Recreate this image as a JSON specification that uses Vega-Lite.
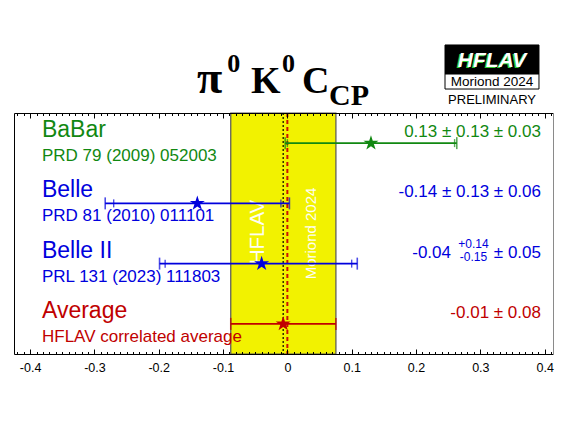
{
  "$schema": "https://vega.github.io/schema/vega-lite/v6.json",
  "autosize": "none",
  "width": 539,
  "height": 241,
  "padding": {"left": 14, "top": 113, "right": 14, "bottom": 71},
  "background": "white",
  "config": {"view": {"stroke": null}, "axis": {"grid": false}},
  "datasets": {
    "rows": [
      {"name": "BaBar", "ref": "PRD 79 (2009) 052003", "val": 0.13, "statLo": 0.0, "statHi": 0.26, "totLo": -0.0034, "totHi": 0.2634, "row": 3.5, "label": "0.13 ± 0.13 ± 0.03"},
      {"name": "Belle", "ref": "PRD 81 (2010) 011101", "val": -0.14, "statLo": -0.27, "statHi": -0.01, "totLo": -0.2832, "totHi": 0.0032, "row": 2.5, "label": "-0.14 ± 0.13 ± 0.06"},
      {"name": "Belle II", "ref": "PRL 131 (2023) 111803", "val": -0.04, "statLo": -0.19, "statHi": 0.10, "totLo": -0.1987, "totHi": 0.1087, "row": 1.5, "label": "± 0.05", "cen": "-0.04", "up": "+0.14", "dn": "-0.15"},
      {"name": "Average", "ref": "HFLAV correlated average", "val": -0.0065, "statLo": -0.088, "statHi": 0.0755, "totLo": -0.088, "totHi": 0.0755, "row": 0.5, "label": "-0.01 ± 0.08"}
    ]
  },
  "data": {"name": "rows"},
  "resolve": {"axis": {"x": "independent", "y": "independent"}},
  "layer": [
    {
      "data": {"values": [{}]},
      "mark": {"type": "rect", "fill": "#f2f200", "stroke": "#555555", "strokeWidth": 1.2},
      "encoding": {
        "x": {"datum": -0.088, "type": "quantitative", "scale": {"domain": [-0.425, 0.413], "nice": false, "zero": false},
          "axis": {"orient": "bottom", "values": [-0.4, -0.3, -0.2, -0.1, 0, 0.1, 0.2, 0.3, 0.4], "labelExpr": "'' + datum.value", "ticks": false, "domain": false, "grid": false, "title": null, "labelFont": "Liberation Sans", "labelFontSize": 12.5, "labelColor": "black", "labelPadding": 7, "labelFlush": false, "labelOverlap": false}},
        "x2": {"datum": 0.0755},
        "y": {"datum": 0, "type": "quantitative", "scale": {"domain": [0, 4], "nice": false, "zero": false},
          "axis": {"orient": "left", "domain": true, "domainColor": "black", "domainWidth": 1, "ticks": false, "labels": false, "grid": false, "title": null, "zindex": 1}},
        "y2": {"datum": 4}
      }
    },
    {
      "data": {"values": [{}]},
      "mark": {"type": "rule", "color": "black", "strokeWidth": 1.2, "strokeDash": [2, 2]},
      "encoding": {
        "x": {"datum": -0.0065, "type": "quantitative", "scale": {"domain": [-0.425, 0.413], "nice": false, "zero": false},
          "axis": {"orient": "bottom", "values": [-0.4, -0.3, -0.2, -0.1, 0, 0.1, 0.2, 0.3, 0.4], "labels": false, "ticks": true, "tickSize": -5, "tickColor": "black", "tickWidth": 1, "domain": true, "domainColor": "black", "domainWidth": 1, "grid": false, "title": null, "zindex": 1}}
      }
    },
    {
      "data": {"values": [{}]},
      "mark": {"type": "rule", "color": "#cc1100", "strokeWidth": 2, "strokeDash": [4, 3]},
      "encoding": {
        "x": {"datum": 0, "type": "quantitative", "scale": {"domain": [-0.425, 0.413], "nice": false, "zero": false},
          "axis": {"orient": "top", "values": [-0.4, -0.3, -0.2, -0.1, 0, 0.1, 0.2, 0.3, 0.4], "labels": false, "ticks": true, "tickSize": -5, "tickColor": "black", "tickWidth": 1, "domain": true, "domainColor": "black", "domainWidth": 1, "grid": false, "title": null, "zindex": 1}}
      }
    },
    {
      "data": {"values": [{}]},
      "mark": {"type": "text", "text": "HFLAV", "angle": 270, "align": "center", "baseline": "middle", "font": "Liberation Sans", "fontSize": 20.5, "color": "white", "opacity": 0.95},
      "encoding": {
        "x": {"datum": -0.0452, "type": "quantitative", "scale": {"domain": [-0.425, 0.413], "nice": false, "zero": false}, "axis": null},
        "y": {"datum": 2.025, "type": "quantitative", "scale": {"domain": [0, 4], "nice": false, "zero": false}, "axis": null}
      }
    },
    {
      "data": {"values": [{}]},
      "mark": {"type": "text", "text": "Moriond 2024", "angle": 270, "align": "center", "baseline": "middle", "font": "Liberation Sans", "fontSize": 15, "color": "white", "opacity": 0.95},
      "encoding": {
        "x": {"datum": 0.0372, "type": "quantitative", "scale": {"domain": [-0.425, 0.413], "nice": false, "zero": false}, "axis": null},
        "y": {"datum": 2.0, "type": "quantitative", "scale": {"domain": [0, 4], "nice": false, "zero": false}, "axis": null}
      }
    },
    {
      "mark": {"type": "rule", "strokeWidth": 1.8},
      "encoding": {
        "x": {"field": "totLo", "type": "quantitative", "scale": {"domain": [-0.425, 0.413], "nice": false, "zero": false},
          "axis": {"orient": "bottom", "tickCount": 84, "labels": false, "ticks": true, "tickSize": -2.5, "tickColor": "black", "tickWidth": 1, "domain": false, "grid": false, "title": null, "zindex": 1}},
        "x2": {"field": "totHi"},
        "y": {"field": "row", "type": "quantitative", "scale": {"domain": [0, 4], "nice": false, "zero": false},
          "axis": {"orient": "right", "domain": true, "domainColor": "#8a8a8a", "domainWidth": 1, "ticks": false, "labels": false, "grid": false, "title": null, "zindex": 1}},
        "color": {"field": "name", "type": "nominal", "scale": {"domain": ["BaBar", "Belle", "Belle II", "Average"], "range": ["#118811", "#0000dd", "#0000dd", "#c00000"]}, "legend": null}
      }
    },
    {
      "transform": [{"fold": ["totLo", "totHi"], "as": ["end", "pos"]}],
      "mark": {"type": "tick", "orient": "vertical", "size": 12, "thickness": 1.6},
      "encoding": {
        "x": {"field": "pos", "type": "quantitative", "scale": {"domain": [-0.425, 0.413], "nice": false, "zero": false}, "axis": null},
        "y": {"field": "row", "type": "quantitative", "scale": {"domain": [0, 4], "nice": false, "zero": false}, "axis": null},
        "color": {"field": "name", "type": "nominal", "scale": {"domain": ["BaBar", "Belle", "Belle II", "Average"], "range": ["#118811", "#0000dd", "#0000dd", "#c00000"]}, "legend": null}
      }
    },
    {
      "transform": [{"filter": "datum.name != 'Average'"}, {"fold": ["statLo", "statHi"], "as": ["end", "pos"]}],
      "mark": {"type": "tick", "orient": "vertical", "size": 8, "thickness": 1.4},
      "encoding": {
        "x": {"field": "pos", "type": "quantitative", "scale": {"domain": [-0.425, 0.413], "nice": false, "zero": false}, "axis": null},
        "y": {"field": "row", "type": "quantitative", "scale": {"domain": [0, 4], "nice": false, "zero": false}, "axis": null},
        "color": {"field": "name", "type": "nominal", "scale": {"domain": ["BaBar", "Belle", "Belle II", "Average"], "range": ["#118811", "#0000dd", "#0000dd", "#c00000"]}, "legend": null}
      }
    },
    {
      "mark": {"type": "point", "filled": true, "opacity": 1, "size": 250, "strokeWidth": 0, "shape": "M0,-1L0.2245,-0.309L0.951,-0.309L0.363,0.118L0.588,0.809L0,0.382L-0.588,0.809L-0.363,0.118L-0.951,-0.309L-0.2245,-0.309Z"},
      "encoding": {
        "x": {"field": "val", "type": "quantitative", "scale": {"domain": [-0.425, 0.413], "nice": false, "zero": false},
          "axis": {"orient": "top", "tickCount": 84, "labels": false, "ticks": true, "tickSize": -2.5, "tickColor": "black", "tickWidth": 1, "domain": false, "grid": false, "title": null, "zindex": 1}},
        "y": {"field": "row", "type": "quantitative", "scale": {"domain": [0, 4], "nice": false, "zero": false}, "axis": null},
        "color": {"field": "name", "type": "nominal", "scale": {"domain": ["BaBar", "Belle", "Belle II", "Average"], "range": ["#118811", "#0000dd", "#0000dd", "#c00000"]}, "legend": null}
      }
    },
    {
      "mark": {"type": "text", "align": "left", "baseline": "alphabetic", "dy": -6, "font": "Liberation Sans", "fontSize": 23},
      "encoding": {
        "x": {"datum": -0.3815, "type": "quantitative", "scale": {"domain": [-0.425, 0.413], "nice": false, "zero": false}, "axis": null},
        "y": {"field": "row", "type": "quantitative", "scale": {"domain": [0, 4], "nice": false, "zero": false}, "axis": null},
        "text": {"field": "name"},
        "color": {"field": "name", "type": "nominal", "scale": {"domain": ["BaBar", "Belle", "Belle II", "Average"], "range": ["#118811", "#0000dd", "#0000dd", "#c00000"]}, "legend": null}
      }
    },
    {
      "mark": {"type": "text", "align": "left", "baseline": "alphabetic", "dy": 18, "font": "Liberation Sans", "fontSize": 17},
      "encoding": {
        "x": {"datum": -0.3815, "type": "quantitative", "scale": {"domain": [-0.425, 0.413], "nice": false, "zero": false}, "axis": null},
        "y": {"field": "row", "type": "quantitative", "scale": {"domain": [0, 4], "nice": false, "zero": false}, "axis": null},
        "text": {"field": "ref"},
        "color": {"field": "name", "type": "nominal", "scale": {"domain": ["BaBar", "Belle", "Belle II", "Average"], "range": ["#118811", "#0000dd", "#0000dd", "#c00000"]}, "legend": null}
      }
    },
    {
      "mark": {"type": "text", "align": "right", "baseline": "alphabetic", "dy": -6, "font": "Liberation Sans", "fontSize": 17},
      "encoding": {
        "x": {"datum": 0.3943, "type": "quantitative", "scale": {"domain": [-0.425, 0.413], "nice": false, "zero": false}, "axis": null},
        "y": {"field": "row", "type": "quantitative", "scale": {"domain": [0, 4], "nice": false, "zero": false}, "axis": null},
        "text": {"field": "label"},
        "color": {"field": "name", "type": "nominal", "scale": {"domain": ["BaBar", "Belle", "Belle II", "Average"], "range": ["#118811", "#0000dd", "#0000dd", "#c00000"]}, "legend": null}
      }
    },
    {
      "transform": [{"filter": "isValid(datum.cen)"}],
      "mark": {"type": "text", "align": "right", "baseline": "alphabetic", "dy": -6, "font": "Liberation Sans", "fontSize": 17, "color": "#0000dd"},
      "encoding": {
        "x": {"datum": 0.2544, "type": "quantitative", "scale": {"domain": [-0.425, 0.413], "nice": false, "zero": false}, "axis": null},
        "y": {"field": "row", "type": "quantitative", "scale": {"domain": [0, 4], "nice": false, "zero": false}, "axis": null},
        "text": {"field": "cen"}
      }
    },
    {
      "transform": [{"filter": "isValid(datum.up)"}],
      "mark": {"type": "text", "align": "center", "baseline": "alphabetic", "dy": -16, "font": "Liberation Sans", "fontSize": 12, "color": "#0000dd"},
      "encoding": {
        "x": {"datum": 0.2894, "type": "quantitative", "scale": {"domain": [-0.425, 0.413], "nice": false, "zero": false}, "axis": null},
        "y": {"field": "row", "type": "quantitative", "scale": {"domain": [0, 4], "nice": false, "zero": false}, "axis": null},
        "text": {"field": "up"}
      }
    },
    {
      "transform": [{"filter": "isValid(datum.dn)"}],
      "mark": {"type": "text", "align": "center", "baseline": "alphabetic", "dy": -3, "font": "Liberation Sans", "fontSize": 12, "color": "#0000dd"},
      "encoding": {
        "x": {"datum": 0.2894, "type": "quantitative", "scale": {"domain": [-0.425, 0.413], "nice": false, "zero": false}, "axis": null},
        "y": {"field": "row", "type": "quantitative", "scale": {"domain": [0, 4], "nice": false, "zero": false}, "axis": null},
        "text": {"field": "dn"}
      }
    },
    {
      "data": {"values": [{}]},
      "mark": {"type": "text", "text": "π", "align": "left", "baseline": "alphabetic", "font": "Liberation Serif", "fontWeight": "bold", "fontSize": 46, "color": "black"},
      "encoding": {
        "x": {"datum": -0.1405, "type": "quantitative", "scale": {"domain": [-0.425, 0.413], "nice": false, "zero": false}, "axis": null},
        "y": {"datum": 4.332, "type": "quantitative", "scale": {"domain": [0, 4], "nice": false, "zero": false}, "axis": null}
      }
    },
    {
      "data": {"values": [{}]},
      "mark": {"type": "text", "text": "0", "align": "left", "baseline": "alphabetic", "font": "Liberation Serif", "fontWeight": "bold", "fontSize": 26, "color": "black"},
      "encoding": {
        "x": {"datum": -0.0935, "type": "quantitative", "scale": {"domain": [-0.425, 0.413], "nice": false, "zero": false}, "axis": null},
        "y": {"datum": 4.68, "type": "quantitative", "scale": {"domain": [0, 4], "nice": false, "zero": false}, "axis": null}
      }
    },
    {
      "data": {"values": [{}]},
      "mark": {"type": "text", "text": "K", "align": "left", "baseline": "alphabetic", "font": "Liberation Serif", "fontWeight": "bold", "fontSize": 38, "color": "black"},
      "encoding": {
        "x": {"datum": -0.0565, "type": "quantitative", "scale": {"domain": [-0.425, 0.413], "nice": false, "zero": false}, "axis": null},
        "y": {"datum": 4.332, "type": "quantitative", "scale": {"domain": [0, 4], "nice": false, "zero": false}, "axis": null}
      }
    },
    {
      "data": {"values": [{}]},
      "mark": {"type": "text", "text": "0", "align": "left", "baseline": "alphabetic", "font": "Liberation Serif", "fontWeight": "bold", "fontSize": 26, "color": "black"},
      "encoding": {
        "x": {"datum": -0.0083, "type": "quantitative", "scale": {"domain": [-0.425, 0.413], "nice": false, "zero": false}, "axis": null},
        "y": {"datum": 4.68, "type": "quantitative", "scale": {"domain": [0, 4], "nice": false, "zero": false}, "axis": null}
      }
    },
    {
      "data": {"values": [{}]},
      "mark": {"type": "text", "text": "C", "align": "left", "baseline": "alphabetic", "font": "Liberation Serif", "fontWeight": "bold", "fontSize": 38, "color": "black"},
      "encoding": {
        "x": {"datum": 0.0228, "type": "quantitative", "scale": {"domain": [-0.425, 0.413], "nice": false, "zero": false}, "axis": null},
        "y": {"datum": 4.332, "type": "quantitative", "scale": {"domain": [0, 4], "nice": false, "zero": false}, "axis": null}
      }
    },
    {
      "data": {"values": [{}]},
      "mark": {"type": "text", "text": "CP", "align": "left", "baseline": "alphabetic", "font": "Liberation Serif", "fontWeight": "bold", "fontSize": 30, "color": "black"},
      "encoding": {
        "x": {"datum": 0.0647, "type": "quantitative", "scale": {"domain": [-0.425, 0.413], "nice": false, "zero": false}, "axis": null},
        "y": {"datum": 4.133, "type": "quantitative", "scale": {"domain": [0, 4], "nice": false, "zero": false}, "axis": null}
      }
    },
    {
      "data": {"values": [{}]},
      "mark": {"type": "rect", "fill": "black", "stroke": "black", "strokeWidth": 1},
      "encoding": {
        "x": {"datum": 0.2451, "type": "quantitative", "scale": {"domain": [-0.425, 0.413], "nice": false, "zero": false}, "axis": null},
        "x2": {"datum": 0.3912},
        "y": {"datum": 5.129, "type": "quantitative", "scale": {"domain": [0, 4], "nice": false, "zero": false}, "axis": null},
        "y2": {"datum": 4.647}
      }
    },
    {
      "data": {"values": [{}]},
      "mark": {"type": "rect", "fill": "white", "stroke": "black", "strokeWidth": 1},
      "encoding": {
        "x": {"datum": 0.2451, "type": "quantitative", "scale": {"domain": [-0.425, 0.413], "nice": false, "zero": false}, "axis": null},
        "x2": {"datum": 0.3912},
        "y": {"datum": 4.647, "type": "quantitative", "scale": {"domain": [0, 4], "nice": false, "zero": false}, "axis": null},
        "y2": {"datum": 4.398}
      }
    },
    {
      "data": {"values": [{}]},
      "mark": {"type": "text", "text": "HFLAV", "align": "center", "baseline": "alphabetic", "dx": -1.5, "dy": 1, "font": "Liberation Sans", "fontWeight": "bold", "fontStyle": "italic", "fontSize": 21, "color": "#33cc33"},
      "encoding": {
        "x": {"datum": 0.3182, "type": "quantitative", "scale": {"domain": [-0.425, 0.413], "nice": false, "zero": false}, "axis": null},
        "y": {"datum": 4.759, "type": "quantitative", "scale": {"domain": [0, 4], "nice": false, "zero": false}, "axis": null}
      }
    },
    {
      "data": {"values": [{}]},
      "mark": {"type": "text", "text": "HFLAV", "align": "center", "baseline": "alphabetic", "font": "Liberation Sans", "fontWeight": "bold", "fontStyle": "italic", "fontSize": 21, "color": "white"},
      "encoding": {
        "x": {"datum": 0.3182, "type": "quantitative", "scale": {"domain": [-0.425, 0.413], "nice": false, "zero": false}, "axis": null},
        "y": {"datum": 4.759, "type": "quantitative", "scale": {"domain": [0, 4], "nice": false, "zero": false}, "axis": null}
      }
    },
    {
      "data": {"values": [{}]},
      "mark": {"type": "text", "text": "Moriond 2024", "align": "center", "baseline": "alphabetic", "font": "Liberation Sans", "fontSize": 13.5, "color": "black"},
      "encoding": {
        "x": {"datum": 0.3182, "type": "quantitative", "scale": {"domain": [-0.425, 0.413], "nice": false, "zero": false}, "axis": null},
        "y": {"datum": 4.448, "type": "quantitative", "scale": {"domain": [0, 4], "nice": false, "zero": false}, "axis": null}
      }
    },
    {
      "data": {"values": [{}]},
      "mark": {"type": "text", "text": "PRELIMINARY", "align": "center", "baseline": "alphabetic", "font": "Liberation Sans", "fontSize": 13, "color": "black"},
      "encoding": {
        "x": {"datum": 0.3182, "type": "quantitative", "scale": {"domain": [-0.425, 0.413], "nice": false, "zero": false}, "axis": null},
        "y": {"datum": 4.149, "type": "quantitative", "scale": {"domain": [0, 4], "nice": false, "zero": false}, "axis": null}
      }
    }
  ]
}
